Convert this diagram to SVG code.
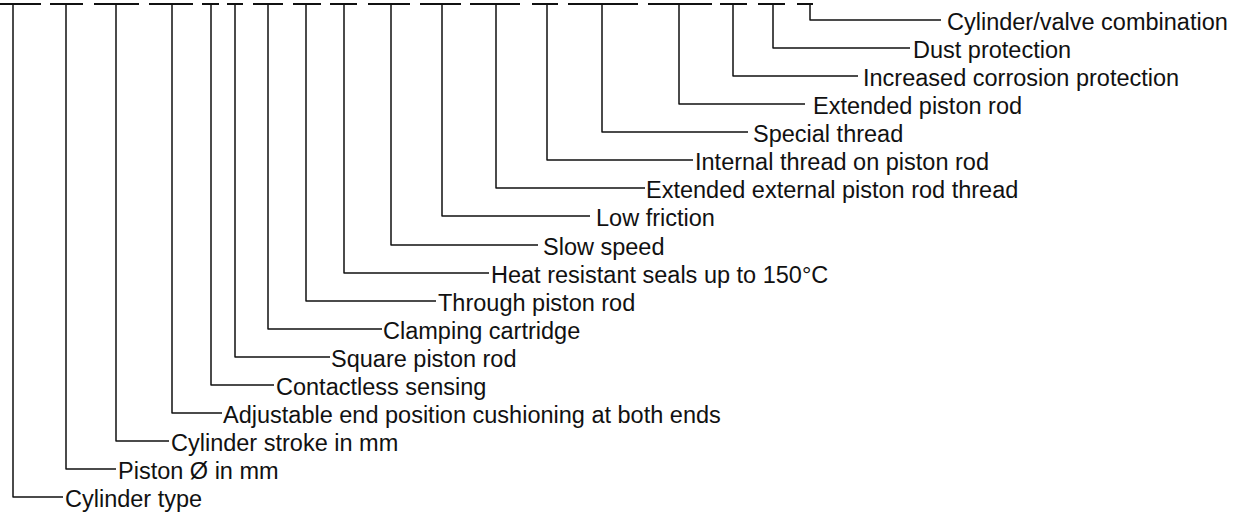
<svg xmlns="http://www.w3.org/2000/svg" width="1239" height="512" viewBox="0 0 1239 512">
<style>
.bg{fill:#fff}
.ln{fill:none;stroke:#111;stroke-width:1.5;stroke-linejoin:round;stroke-linecap:butt}
.ul{fill:none;stroke:#111;stroke-width:2}
.lb{font-family:"Liberation Sans",Arial,sans-serif;font-size:23.5px;fill:#111}
</style>
<rect class="bg" x="0" y="0" width="1239" height="512"/>
<g id="code-underlines">
<path class="ul" d="M0 4H41M50 4H83M94 4H139M149 4H193M202 4H219M227 4H243M253 4H283M293 4H321M330 4H357M368 4H410M420 4H461M470 4H520M532 4H558M568 4H638M648 4H712M720 4H747M758 4H785M797 4H813"/>
</g>
<g id="connectors">
<path class="ln" d="M810 4V20H941"/>
<path class="ln" d="M773 4V48H910"/>
<path class="ln" d="M733 4V76H858"/>
<path class="ln" d="M679 4V104H805"/>
<path class="ln" d="M602 4V132H748"/>
<path class="ln" d="M547 4V160H693"/>
<path class="ln" d="M496 4V188H645"/>
<path class="ln" d="M442 4V216H590"/>
<path class="ln" d="M391 4V245H538"/>
<path class="ln" d="M344 4V273H489"/>
<path class="ln" d="M306 4V301H436"/>
<path class="ln" d="M268 4V329H382"/>
<path class="ln" d="M235 4V357H330"/>
<path class="ln" d="M211 4V385H274"/>
<path class="ln" d="M172 4V413H222"/>
<path class="ln" d="M116 4V441H169"/>
<path class="ln" d="M66 4V469H116"/>
<path class="ln" d="M13 4V497H63"/>
</g>
<g id="n1"><text class="lb" x="947" y="30">Cylinder/valve combination</text></g>
<g id="n2"><text class="lb" x="913" y="58">Dust protection</text></g>
<g id="n3"><text class="lb" x="863" y="86">Increased corrosion protection</text></g>
<g id="n4"><text class="lb" x="813" y="114">Extended piston rod</text></g>
<g id="n5"><text class="lb" x="753" y="142">Special thread</text></g>
<g id="n6"><text class="lb" x="695" y="170">Internal thread on piston rod</text></g>
<g id="n7"><text class="lb" x="646" y="198">Extended external piston rod thread</text></g>
<g id="n8"><text class="lb" x="596" y="226">Low friction</text></g>
<g id="n9"><text class="lb" x="543" y="255">Slow speed</text></g>
<g id="n10"><text class="lb" x="491" y="283">Heat resistant seals up to 150°C</text></g>
<g id="n11"><text class="lb" x="438" y="311">Through piston rod</text></g>
<g id="n12"><text class="lb" x="383" y="339">Clamping cartridge</text></g>
<g id="n13"><text class="lb" x="331" y="367">Square piston rod</text></g>
<g id="n14"><text class="lb" x="276" y="395">Contactless sensing</text></g>
<g id="n15"><text class="lb" x="223" y="423">Adjustable end position cushioning at both ends</text></g>
<g id="n16"><text class="lb" x="171" y="451">Cylinder stroke in mm</text></g>
<g id="n17"><text class="lb" x="118" y="479">Piston Ø in mm</text></g>
<g id="n18"><text class="lb" x="65" y="507">Cylinder type</text></g>
</svg>
